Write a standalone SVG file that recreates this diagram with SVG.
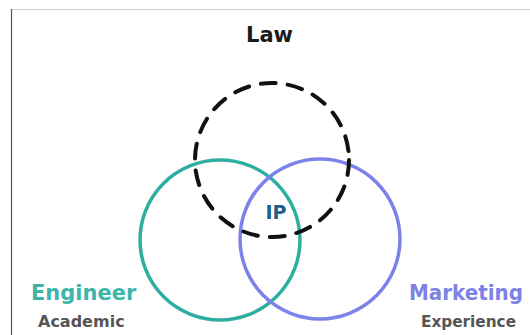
<svg xmlns="http://www.w3.org/2000/svg" width="530" height="335" viewBox="0 0 530 335">
<style>
text{font-family:"DejaVu Sans","Liberation Sans",sans-serif;font-weight:bold}
.ring{fill:none;stroke-width:3.5}
.title{font-size:21px;fill:#1a1a1a}
.big{font-size:21px}
.sub{font-size:16px;fill:#555555}
</style>
<rect x="0" y="0" width="530" height="335" fill="#ffffff"/>
<line x1="11" y1="9.5" x2="530" y2="9.5" stroke="#d0d0d0" stroke-width="1"/>
<line x1="11.5" y1="9" x2="11.5" y2="335" stroke="#555555" stroke-width="1.2"/>
<g id="engineer">
<circle class="ring" cx="220" cy="240" r="80" stroke="#2eaea0"/>
<text x="31" y="300" class="big" fill="#3db5a9">Engineer</text>
<text x="38" y="327" class="sub">Academic</text>
</g>
<g id="marketing">
<circle class="ring" cx="320" cy="239" r="80" stroke="#7c82ea"/>
<text x="523" y="300" class="big" fill="#7d81e8" text-anchor="end" textLength="114" lengthAdjust="spacingAndGlyphs">Marketing</text>
<text x="516" y="327" class="sub" text-anchor="end" textLength="95" lengthAdjust="spacingAndGlyphs">Experience</text>
</g>
<g id="law">
<circle cx="272" cy="160" r="77" fill="none" stroke="#111111" stroke-width="4" stroke-dasharray="15 12" stroke-linecap="round"/>
<text x="269.5" y="42" class="title" text-anchor="middle">Law</text>
</g>
<g id="ip">
<text x="276" y="219" font-size="19px" fill="#1e5f8c" text-anchor="middle">IP</text>
</g>
<g id="connectors"></g>
</svg>
